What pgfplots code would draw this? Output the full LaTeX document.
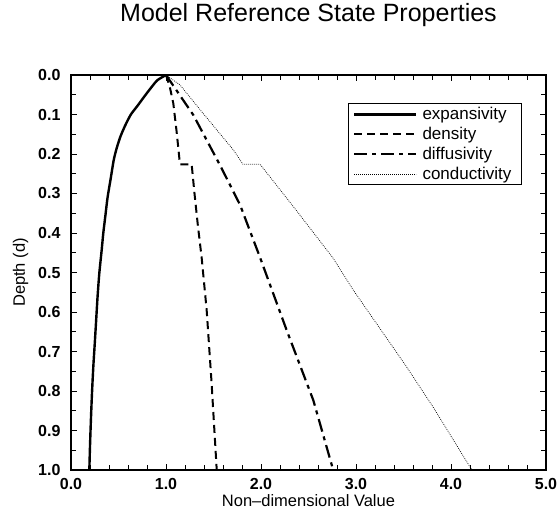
\documentclass[border=0pt]{standalone}
\usepackage{fontspec}
\setmainfont{Liberation Sans}
\usepackage{pgfplots}
\pgfplotsset{compat=1.18}

% reference state profiles (x = value, y = depth)
\pgfplotstableread{
x y
1.000 0.000
0.910 0.013
0.850 0.030
0.770 0.055
0.700 0.078
0.630 0.100
0.570 0.128
0.520 0.156
0.480 0.186
0.450 0.215
0.418 0.262
0.385 0.310
0.360 0.360
0.340 0.400
0.323 0.443
0.298 0.502
0.280 0.560
0.265 0.620
0.250 0.680
0.235 0.738
0.222 0.800
0.210 0.870
0.200 0.940
0.193 1.000
}\expansivity

\pgfplotstableread{
x y
1.000 0.000
1.040 0.030
1.077 0.072
1.112 0.144
1.147 0.226
1.270 0.226
1.300 0.300
1.335 0.380
1.376 0.464
1.428 0.595
1.480 0.780
1.534 1.000
}\density

\pgfplotstableread{
x y
1.000 0.000
1.287 0.101
1.568 0.228
1.780 0.329
1.990 0.462
2.270 0.646
2.550 0.823
2.760 1.000
}\diffusivity

\pgfplotstableread{
x y
1.000 0.000
1.147 0.025
1.390 0.097
1.710 0.190
1.810 0.226
1.990 0.226
2.340 0.333
2.760 0.464
2.970 0.544
3.530 0.738
3.810 0.840
4.220 1.000
}\conductivity

\begin{document}
\begin{tikzpicture}
\begin{axis}[
  scale only axis,
  width=475pt,
  height=395pt,
  xmin=0, xmax=5,
  ymin=0, ymax=1,
  y dir=reverse,
  xtick={0,1,...,5},
  ytick={0,0.1,...,1.0},
  minor x tick num=4,
  minor y tick num=1,
  tick align=inside,
  major tick length=6pt,
  minor tick length=5pt,
  axis line style={line width=1.4pt},
  every tick/.style={black, line width=0.9pt},
  /pgf/number format/assume math mode=true,
  xticklabel style={font=\fontsize{16}{16}\selectfont\bfseries, yshift=-5pt,
    /pgf/number format/.cd, fixed, fixed zerofill, precision=1},
  yticklabel style={font=\fontsize{16}{16}\selectfont\bfseries, xshift=-7pt,
    /pgf/number format/.cd, fixed, fixed zerofill, precision=1},
  xlabel={Non--dimensional Value},
  ylabel={Depth (d)},
  xlabel style={font=\fontsize{16.5}{16.5}\selectfont, yshift=2pt},
  ylabel style={font=\fontsize{16.5}{16.5}\selectfont, yshift=3pt},
  title={Model Reference State Properties},
  title style={font=\fontsize{25}{25}\selectfont, at={(0.5,1)}, anchor=base, yshift=48pt},
  legend style={at={(0.949,0.929)}, anchor=north east, draw=black, line width=0.9pt,
    font=\fontsize{17}{19}\selectfont, row sep=2pt, inner xsep=5pt, inner ysep=2pt,
    nodes={inner xsep=5pt}},
  legend cell align=left,
  legend image code/.code={\draw[#1] (0pt,0pt) -- (62pt,0pt);},
]
\addplot[black, line width=2.4pt, smooth, tension=0.4] table {\expansivity};
\addplot[black, line width=2pt, dash pattern=on 8pt off 5pt] table {\density};
\addplot[black, line width=2.2pt, dash pattern=on 13pt off 5pt on 4pt off 5pt] table {\diffusivity};
\addplot[black, line width=0.7pt, dash pattern=on 0.8pt off 1.2pt] table {\conductivity};
\legend{expansivity, density, diffusivity, conductivity}
\coordinate (BL) at (axis cs:0,1);
\end{axis}
\pgfresetboundingbox
\path ([shift={(-71pt,-44pt)}]BL) rectangle ++(560pt,514pt);
\end{tikzpicture}
\end{document}
